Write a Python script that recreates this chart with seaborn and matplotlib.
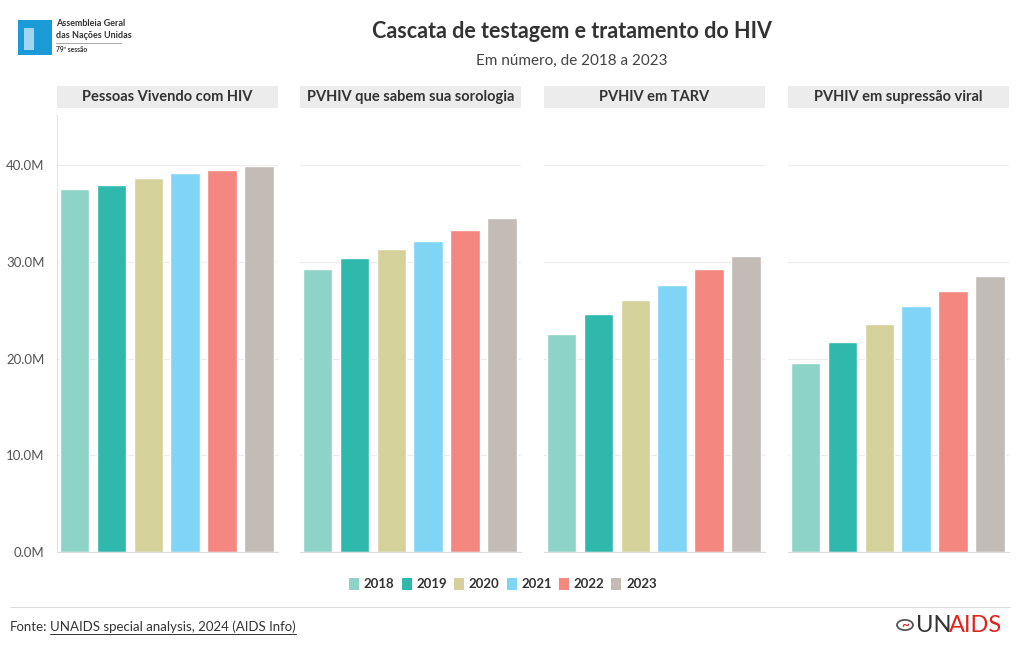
import pandas as pd
import matplotlib.pyplot as plt
import seaborn as sns
from matplotlib.patches import Patch, Rectangle
from matplotlib.ticker import FuncFormatter

# Data (millions of people)
years = ["2018", "2019", "2020", "2021", "2022", "2023"]
panels = [
    "Pessoas Vivendo com HIV",
    "PVHIV que sabem sua sorologia",
    "PVHIV em TARV",
    "PVHIV em supressão viral",
]
pvhiv = [37.5, 38.0, 38.7, 39.2, 39.5, 39.9]
sabem = [29.25, 30.4, 31.3, 32.2, 33.3, 34.5]
tarv = [22.6, 24.6, 26.1, 27.6, 29.25, 30.6]
supressao = [19.6, 21.7, 23.6, 25.4, 27.0, 28.5]
colors = ["#8dd3c7", "#2fb8ac", "#d4d19b", "#80d4f6", "#f4877f", "#c3bbb6"]

series = [pvhiv, sabem, tarv, supressao]
rows = []
for name, vals in zip(panels, series):
    for y, v in zip(years, vals):
        rows.append({"painel": name, "ano": y, "valor": v * 1e6})
df = pd.DataFrame(rows)

sns.set_style("white")
plt.rcParams["font.family"] = ["Lato", "DejaVu Sans"]

W, H = 1020, 650
fig = plt.figure(figsize=(W / 100, H / 100), dpi=100)

def fx(px):
    return px / W

def fy(py):
    return 1 - py / H

palette = dict(zip(years, colors))
lefts = [57, 300, 544, 788]
pw = 221
top, bottom = 115, 552

for i, (name, left) in enumerate(zip(panels, lefts)):
    ax = fig.add_axes([fx(left), fy(bottom), fx(pw), (bottom - top) / H])
    sub = df[df["painel"] == name]
    sns.barplot(data=sub, x="ano", y="valor", hue="ano", palette=palette,
                order=years, hue_order=years, legend=False, width=0.8,
                saturation=1, ax=ax)
    ax.set_ylim(0, 45.2e6)
    ax.set_xlim(-0.48, 5.52)
    ax.set_yticks([0, 10e6, 20e6, 30e6, 40e6])
    ax.yaxis.grid(True, color="#ececec", linewidth=0.8)
    ax.set_axisbelow(True)
    ax.set_xlabel("")
    ax.set_ylabel("")
    ax.set_xticks([])
    for s in ["top", "right"]:
        ax.spines[s].set_visible(False)
    ax.spines["bottom"].set_color("#dddddd")
    if i == 0:
        ax.spines["left"].set_color("#e4e4e4")
        ax.yaxis.set_major_formatter(FuncFormatter(lambda v, p: f"{v / 1e6:.1f}M"))
        ax.tick_params(axis="y", labelsize=9.5, colors="#555555", length=0, pad=9)
    else:
        ax.spines["left"].set_visible(False)
        ax.set_yticklabels([])
        ax.tick_params(axis="y", length=0)

    # strip header
    fig.patches.append(Rectangle((fx(left), fy(108)), fx(pw), 22 / H,
                                 transform=fig.transFigure, facecolor="#ececec",
                                 edgecolor="none"))
    fig.text(fx(left + pw / 2), fy(97), name, ha="center", va="center",
             fontsize=10.5, fontweight="bold", color="#333333")

# titles
fig.text(fx(572), fy(32), "Cascata de testagem e tratamento do HIV", ha="center",
         va="center", fontsize=15.5, fontweight="bold", color="#333333")
fig.text(fx(572), fy(61), "Em número, de 2018 a 2023", ha="center", va="center",
         fontsize=11, color="#444444")

# legend
handles = [Patch(facecolor=c, edgecolor="none", label=y) for y, c in zip(years, colors)]
leg = fig.legend(handles=handles, loc="center", bbox_to_anchor=(fx(503), fy(584)),
                 ncol=6, frameon=False, fontsize=9.5, handlelength=0.75,
                 handleheight=1.1, handletextpad=0.35, columnspacing=0.55)
for t in leg.get_texts():
    t.set_fontweight("bold")
    t.set_color("#333333")

# footer
fig.add_artist(plt.Line2D([fx(10), fx(1010)], [fy(607), fy(607)],
                          transform=fig.transFigure, color="#dddddd", linewidth=0.8))
fig.text(fx(10), fy(627), "Fonte:", ha="left", va="center", fontsize=9.5, color="#333333")
fig.text(fx(50), fy(627), "UNAIDS special analysis, 2024 (AIDS Info)", ha="left",
         va="center", fontsize=9.5, color="#333333")
fig.add_artist(plt.Line2D([fx(50), fx(296)], [fy(634), fy(634)],
                          transform=fig.transFigure, color="#333333", linewidth=0.7))

# UNAIDS logo
fig.patches.append(plt.Circle((fx(905), fy(625)), 8 / W, transform=fig.transFigure,
                              facecolor="none", edgecolor="#555555", linewidth=1.3))
fig.text(fx(905), fy(625), "~", ha="center", va="center", fontsize=10,
         color="#d7263d", fontweight="bold")
fig.text(fx(916), fy(625), "UN", ha="left", va="center", fontsize=17, color="#333333")
fig.text(fx(949), fy(625), "AIDS", ha="left", va="center", fontsize=17, color="#e2231a")

# Assembleia Geral logo
fig.patches.append(Rectangle((fx(18), fy(55)), fx(34), 35 / H, transform=fig.transFigure,
                             facecolor="#1a9ad6", edgecolor="none"))
fig.patches.append(Rectangle((fx(24), fy(50)), fx(10), 22 / H, transform=fig.transFigure,
                             facecolor="#ffffff", edgecolor="none", alpha=0.6))
fig.text(fx(56), fy(24), "Assembleia Geral", ha="left", va="center", fontsize=6.5,
         fontweight="bold", color="#333333")
fig.text(fx(56), fy(35), "das Nações Unidas", ha="left", va="center", fontsize=6.5,
         fontweight="bold", color="#333333")
fig.add_artist(plt.Line2D([fx(56), fx(121)], [fy(43), fy(43)],
                          transform=fig.transFigure, color="#999999", linewidth=0.6))
fig.text(fx(56), fy(50), "79ª sessão", ha="left", va="center", fontsize=4.8,
         fontweight="bold", color="#333333")

fig.savefig("out.png", dpi=100)
